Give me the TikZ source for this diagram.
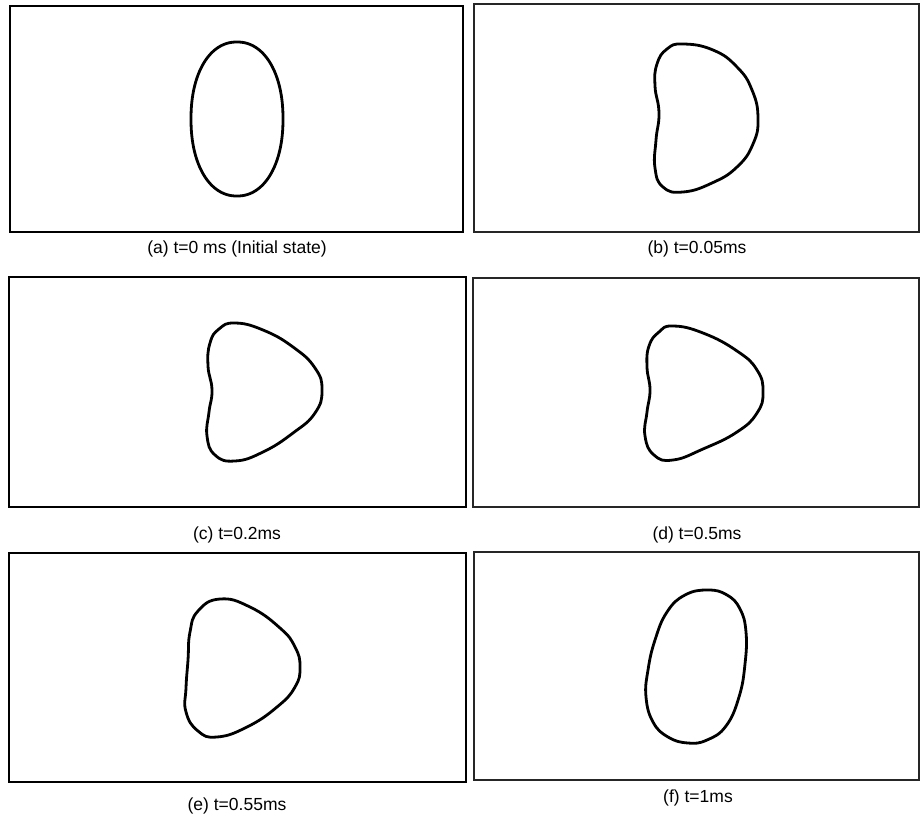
\documentclass[tikz,border=0pt]{standalone}
\usepackage{fontspec}
\setmainfont{Liberation Sans}
\begin{document}
\begin{tikzpicture}[x=1pt,y=-1pt,
  panel/.style={draw=black,line width=1.1pt},
  panelR/.style={draw=black!85,line width=1.6pt},
  drop/.style={draw=black,line width=2.8pt,line join=round},
  captext/.style={font=\fontsize{17.5}{20}\selectfont,inner sep=0pt,anchor=center}]
\useasboundingbox[fill=white] (0,0) rectangle (920,819);
% panels
\draw[panel]  (10,6) rectangle (463,232);
\draw[panelR] (474,4) rectangle (919,232);
\draw[panel]  (9,277) rectangle (466,507);
\draw[panelR] (473,278) rectangle (919,507);
\draw[panel]  (9,553) rectangle (466,782);
\draw[panelR] (474,552) rectangle (919,780);
% (a) rounded ellipse
\draw[drop] plot[domain=1:359,samples=180,variable=\t]
  ({237+46*sign(cos(\t))*pow(abs(cos(\t)),0.93)},
   {119+77*sign(sin(\t))*pow(abs(sin(\t)),0.93)}) -- cycle;
% (b)
\draw[drop] plot[smooth cycle,tension=0.8] coordinates {
 (683,44) (713,50) (737,67) (752,90) (758,118) (753,144) (737,167) (712,183)
 (683,192) (663,187) (655,168) (656,140) (659,113) (655,86) (657,64) (667,49)};
% (c)
\draw[drop] plot[smooth cycle,tension=0.8] coordinates {
 (235,323) (263,330) (293,347) (315,368) (322,390) (315,413) (293,433) (263,452)
 (235,461) (215,455) (207,436) (209,412) (212,390) (208,366) (210,343) (219,329)};
% (d)
\draw[drop] plot[smooth cycle,tension=0.8] coordinates {
 (673,326) (703,333) (737,351) (757,370) (763,392) (757,413) (737,432) (703,449)
 (673,460) (654,455) (645,436) (647,412) (650,390) (647,367) (649,346) (659,332)};
% (e)
\draw[drop] plot[smooth cycle,tension=0.8] coordinates {
 (220,599) (250,607) (280,628) (295,647) (300,667) (295,687) (277,707) (247,727)
 (217,737) (198,731) (186,712) (186,688) (188,660) (190,632) (198,611)};
% (f)
\draw[drop] plot[smooth cycle,tension=0.75] coordinates {
 (708,590) (727,595) (740,609) (746,632) (745,664) (739,697) (726,726) (707,740)
 (688,743) (668,737) (653,722) (646,697) (648,670) (655,640) (667,612) (685,595)};
% captions
\node[captext] (ca) at (237,249) {(a) t=0 ms (Initial state)};
\node[captext] (cb) at (697,249) {(b) t=0.05ms};
\node[captext] (cc) at (237,535) {(c) t=0.2ms};
\node[captext] (cd) at (697,535) {(d) t=0.5ms};
\node[captext] (ce) at (237,806) {(e) t=0.55ms};
\node[captext] (cf) at (698,798) {(f) t=1ms};
\end{tikzpicture}
\end{document}
